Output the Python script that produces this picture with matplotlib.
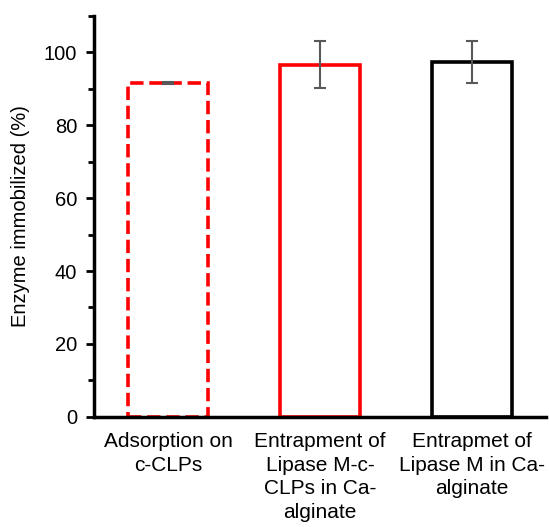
import matplotlib
matplotlib.use("Agg")
import matplotlib.pyplot as plt
from matplotlib.ticker import MultipleLocator

plt.rcParams["font.family"] = ["Liberation Sans", "DejaVu Sans"]

categories = [
    "Adsorption on\nc-CLPs",
    "Entrapment of\nLipase M-c-\nCLPs in Ca-\nalginate",
    "Entrapmet of\nLipase M in Ca-\nalginate",
]
values = [91.5, 96.6, 97.3]
errors = [0.3, 6.4, 5.7]
edge_colors = ["#ff0000", "#ff0000", "#000000"]
line_styles = ["--", "-", "-"]

fig = plt.figure(figsize=(5.49, 5.27), dpi=100)
ax = fig.add_axes([0.171, 0.209, 0.824, 0.761])

x = list(range(len(categories)))
for i in x:
    ax.bar(i, values[i], width=0.53, facecolor="white", edgecolor=edge_colors[i],
           linewidth=2.6, linestyle=line_styles[i], zorder=2)
ax.errorbar(x, values, yerr=errors, fmt="none", ecolor="#595959",
            elinewidth=1.5, capsize=4.5, capthick=1.5, zorder=3)

ax.set_xlim(-0.49, 2.49)
ax.set_ylim(0, 110)
ax.yaxis.set_major_locator(MultipleLocator(20))
ax.yaxis.set_minor_locator(MultipleLocator(10))
ax.set_xticks(x)
ax.set_xticklabels(categories, fontsize=15, linespacing=1.3)
ax.tick_params(axis="x", length=0, pad=11)
ax.tick_params(axis="y", which="major", length=6, width=2, labelsize=14.5,
               direction="out", pad=6)
ax.tick_params(axis="y", which="minor", length=4, width=2, direction="out")
ax.set_ylabel("Enzyme immobilized (%)", fontsize=14.5, labelpad=10)

for side in ["top", "right"]:
    ax.spines[side].set_visible(False)
for side in ["left", "bottom"]:
    ax.spines[side].set_linewidth(2.5)

fig.savefig("out.png", dpi=100)
